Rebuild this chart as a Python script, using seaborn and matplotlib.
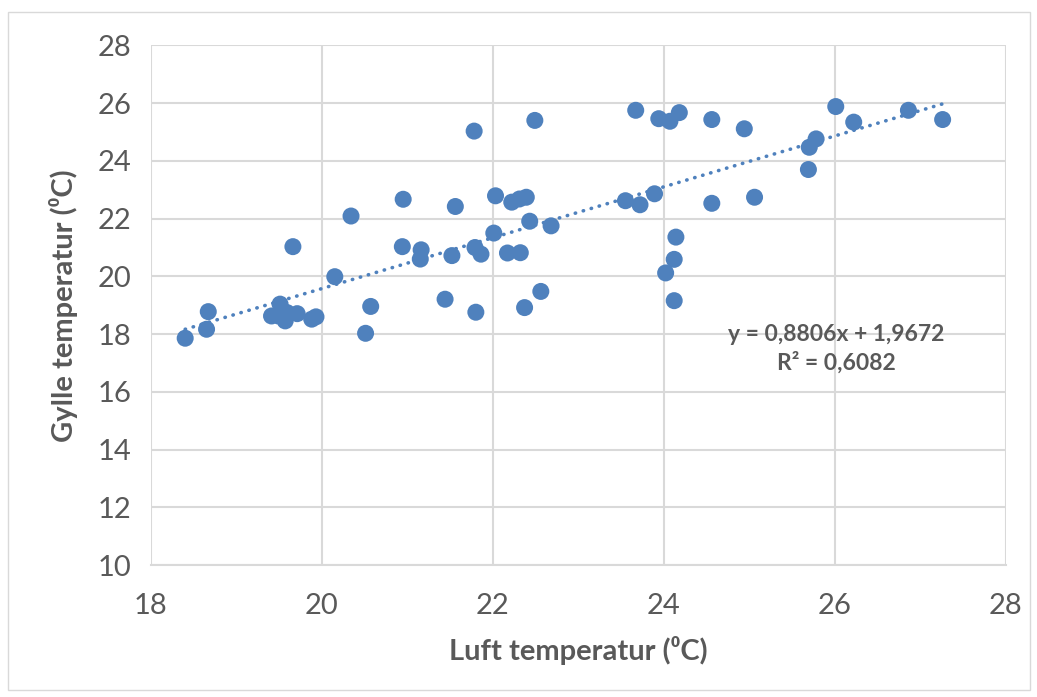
import numpy as np
import pandas as pd
import seaborn as sns
import matplotlib.pyplot as plt
from matplotlib.patches import Rectangle

# luft (x) og gylle (y) temperatur, lest av figuren
luft = [18.40, 18.67, 18.65, 19.51, 19.41, 19.49, 19.57, 19.71, 19.88, 19.93,
        19.59, 19.66, 20.15, 20.34, 20.95, 21.56, 20.94, 21.16, 21.15, 21.52,
        20.57, 20.51, 21.44, 21.78, 22.49, 23.67, 23.94, 24.07, 24.18, 24.56,
        22.03, 22.22, 22.31, 22.39, 22.43, 22.68, 22.01, 21.79, 21.86, 22.17,
        22.32, 23.55, 23.72, 23.89, 24.56, 24.14, 24.12, 24.02, 24.12, 21.80,
        22.37, 22.56, 24.94, 26.01, 26.22, 26.86, 27.26, 25.78, 25.70, 25.69,
        25.06]
gylle = [17.86, 18.78, 18.17, 19.04, 18.63, 18.63, 18.46, 18.71, 18.52, 18.60,
         18.75, 21.03, 19.99, 22.09, 22.67, 22.42, 21.03, 20.92, 20.60, 20.72,
         18.96, 18.03, 19.21, 25.03, 25.40, 25.75, 25.46, 25.37, 25.67, 25.43,
         22.79, 22.57, 22.68, 22.74, 21.91, 21.75, 21.50, 21.00, 20.77, 20.81,
         20.82, 22.62, 22.48, 22.86, 22.53, 21.36, 20.59, 20.12, 19.16, 18.76,
         18.92, 19.48, 25.11, 25.88, 25.34, 25.75, 25.43, 24.76, 24.47, 23.70,
         22.74]

# trendlinje fra Excel
slope = 0.8806
intercept = 1.9672
r2 = 0.6082

blue = "#4f81bd"
grey_txt = "#595959"
grid_col = "#d9d9d9"

df = pd.DataFrame({"luft": luft, "gylle": gylle})

sns.set_style("white")
plt.rcParams["font.family"] = ["Lato", "DejaVu Sans"]

fig = plt.figure(figsize=(10.37, 6.97), dpi=100)
ax = fig.add_axes([0.1456, 0.189, 0.8244, 0.746])

sns.scatterplot(data=df, x="luft", y="gylle", color=blue, s=150,
                edgecolor="none", ax=ax, zorder=3)

xs = np.array([min(luft), max(luft)])
ax.plot(xs, slope * xs + intercept, color=blue, lw=2.6,
        linestyle=(0, (0.1, 2.2)), dash_capstyle="round", zorder=2)

ax.set_xlim(18, 28)
ax.set_ylim(10, 28)
ax.set_xticks(range(18, 29, 2))
ax.set_yticks(range(10, 29, 2))
ax.grid(True, color=grid_col, lw=1.5)
ax.set_axisbelow(True)
for side in ["top", "right", "left"]:
    ax.spines[side].set_visible(False)
ax.spines["bottom"].set_color(grid_col)
ax.spines["bottom"].set_linewidth(1.5)
ax.tick_params(length=0, labelsize=21, labelcolor=grey_txt)
ax.tick_params(axis="x", pad=20)
ax.tick_params(axis="y", pad=14)

ax.set_xlabel("Luft temperatur (⁰C)", fontsize=21, fontweight="bold",
              color=grey_txt, labelpad=12)
ax.set_ylabel("Gylle temperatur (⁰C)", fontsize=21, fontweight="bold",
              color=grey_txt, labelpad=14)

ax.text(26.02, 18.0, "y = 0,8806x + 1,9672", fontsize=16.5, fontweight="bold",
        color=grey_txt, ha="center", va="center")
ax.text(26.02, 17.03, "R² = 0,6082", fontsize=16.5, fontweight="bold",
        color=grey_txt, ha="center", va="center")

fig.patches.append(Rectangle((8 / 1037, 7 / 697), 1022 / 1037, 678 / 697,
                             transform=fig.transFigure, fill=False,
                             edgecolor=grid_col, lw=1))

fig.savefig("out.png", dpi=100, facecolor="white")
